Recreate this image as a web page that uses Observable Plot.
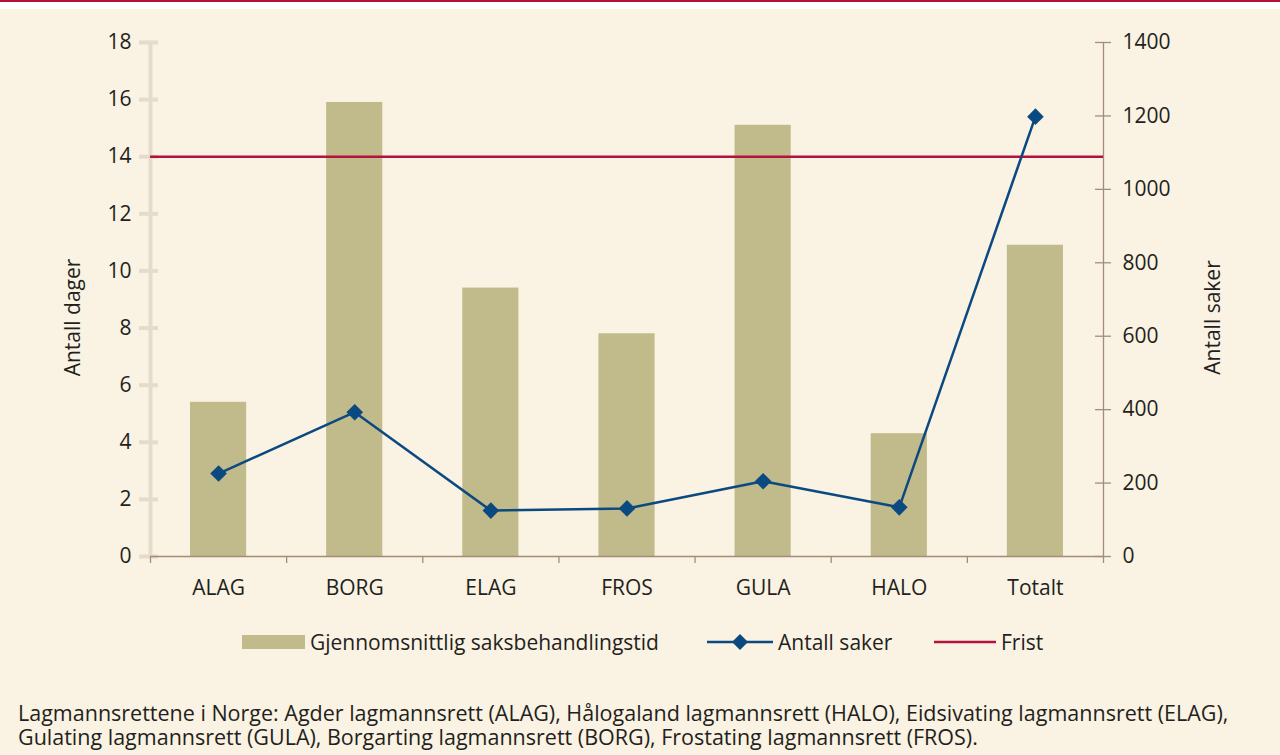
<!DOCTYPE html>
<html>
<head>
<meta charset="utf-8">
<script src="https://cdn.jsdelivr.net/npm/d3@7"></script>
<script src="https://cdn.jsdelivr.net/npm/@observablehq/plot@0.6"></script>
<style>
  html, body { margin: 0; padding: 0; background: #ffffff; }
  body { width: 1280px; height: 755px; overflow: hidden; font-family: "Open Sans", sans-serif; color: #231f20; }
  #topline { height: 2px; background: #b4123e; }
  #gap { height: 7px; background: #ffffff; }
  #panel { background: #faf2e2; height: 746px; position: relative; }
  #chart svg { display: block; }
  #legend { position: absolute; top: 613px; left: 0; width: 1280px; height: 40px; font-size: 21px; }
  .item { position: absolute; top: 0; height: 40px; display: flex; align-items: center; }
  #caption { position: absolute; left: 18px; top: 692px; font-size: 21.5px; line-height: 24px; white-space: nowrap; }
</style>
</head>
<body>
<div id="topline"></div>
<div id="gap"></div>
<div id="panel">
  <div id="chart"></div>
  <div id="legend">
    <div class="item" style="left:242px"><svg width="64" height="16"><rect x="0" y="1" width="63" height="14" fill="#c1ba8a"/></svg><span style="margin-left:4px">Gjennomsnittlig saksbehandlingstid</span></div>
    <div class="item" style="left:707px"><svg width="67" height="20"><line x1="0" y1="10" x2="66" y2="10" stroke="#0b4a80" stroke-width="2.5"/><path d="M33,2 L41,10 L33,18 L25,10 Z" fill="#0b4a80"/></svg><span style="margin-left:4px">Antall saker</span></div>
    <div class="item" style="left:934px"><svg width="63" height="20"><line x1="0" y1="10" x2="62" y2="10" stroke="#b4123e" stroke-width="2.5"/></svg><span style="margin-left:4px">Frist</span></div>
  </div>
  <div id="caption">Lagmannsrettene i Norge: Agder lagmannsrett (ALAG), Hålogaland lagmannsrett (HALO), Eidsivating lagmannsrett (ELAG),<br>Gulating lagmannsrett (GULA), Borgarting lagmannsrett (BORG), Frostating lagmannsrett (FROS).</div>
</div>
<script>
const categories = ["ALAG", "BORG", "ELAG", "FROS", "GULA", "HALO", "Totalt"];
const avgDays = [5.4, 15.9, 9.4, 7.8, 15.1, 4.3, 10.9];
const caseCounts = [226, 393, 125, 131, 205, 134, 1198];
const deadline = 14;
const leftTicks = [0, 2, 4, 6, 8, 10, 12, 14, 16, 18];
const rightTicks = [0, 200, 400, 600, 800, 1000, 1200, 1400];
const leftLabel = "Antall dager";
const rightLabel = "Antall saker";

const leftMax = 18, rightMax = 1400;
const toLeft = d => d * leftMax / rightMax;

const rows = categories.map((c, i) => ({name: c, i, days: avgDays[i], cases: caseCounts[i]}));
const bounds = d3.range(categories.length + 1);

const axisColor = "#a58c7a";
const leftAxisColor = "#e4dccb";
const fs = 21;

const chart = Plot.plot({
  width: 1280,
  height: 600,
  marginTop: 33,
  marginBottom: 53,
  marginLeft: 150,
  marginRight: 177,
  style: {background: "transparent", fontFamily: "Open Sans, sans-serif", fontSize: "21px", color: "#231f20"},
  x: {type: "linear", domain: [0, categories.length]},
  y: {domain: [0, leftMax]},
  marks: [
    Plot.rectY(rows, {x1: "i", x2: d => d.i + 1, y: "days", fill: "#c1ba8a", insetLeft: 40, insetRight: 40}),
    Plot.ruleX([0], {y1: 0, y2: leftMax, stroke: leftAxisColor, strokeWidth: 4}),
    Plot.ruleY(leftTicks, {y: d => d, x1: 0, x2: 0, insetLeft: -11, insetRight: -8, stroke: leftAxisColor, strokeWidth: 4}),
    Plot.axisY(leftTicks, {anchor: "left", tickSize: 0, tickPadding: 19, label: null, fontSize: fs}),
    Plot.ruleX([categories.length], {y1: 0, y2: leftMax, stroke: axisColor, strokeWidth: 1.3}),
    Plot.ruleY(rightTicks, {y: toLeft, x1: categories.length, x2: categories.length, insetLeft: -8, insetRight: -8, stroke: axisColor, strokeWidth: 1.3}),
    Plot.axisY(rightTicks, {y: toLeft, anchor: "right", tickSize: 0, tickPadding: 19, tickFormat: d => String(d), label: null, fontSize: fs}),
    Plot.ruleY([0], {stroke: axisColor, strokeWidth: 1.3}),
    Plot.axisX(bounds, {tickSize: 7, tickFormat: () => "", stroke: axisColor, strokeWidth: 1.3, label: null}),
    Plot.axisX(rows.map(d => d.i + 0.5), {tickSize: 0, tickPadding: 24, tickFormat: v => categories[Math.floor(v)], label: null, fontSize: fs}),
    Plot.ruleY([deadline], {stroke: "#b4123e", strokeWidth: 2.5}),
    Plot.line(rows, {x: d => d.i + 0.5, y: d => toLeft(d.cases), stroke: "#0b4a80", strokeWidth: 2.5}),
    Plot.dot(rows, {x: d => d.i + 0.5, y: d => toLeft(d.cases), symbol: "diamond2", r: 7.5, fill: "#0b4a80", stroke: "none"}),
    Plot.text([leftLabel], {frameAnchor: "left", textAnchor: "middle", dx: -77, dy: 18, rotate: -90, fontSize: fs}),
    Plot.text([rightLabel], {frameAnchor: "right", textAnchor: "middle", dx: 110, dy: 18, rotate: -90, fontSize: fs})
  ]
});
document.getElementById("chart").appendChild(chart);
</script>
</body>
</html>
